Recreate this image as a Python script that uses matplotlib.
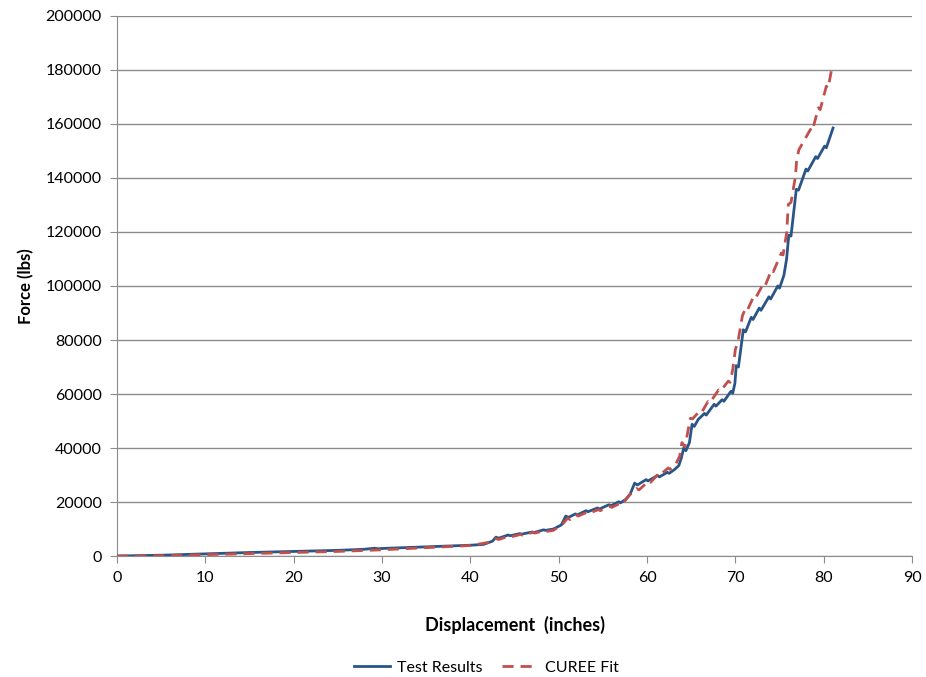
import numpy as np
from matplotlib import pyplot as plt

plt.rcParams['font.family'] = ['Lato', 'DejaVu Sans']

# Test Results (displacement in, force lbs)
test_x = [0, 5, 10, 15, 20, 25, 28, 29.2, 29.5, 30, 35, 40, 41.5, 42.5, 42.9, 43.2, 44.3, 44.5,
          45.6, 45.8, 47, 47.2, 48.3, 48.5, 49.4, 50.3, 50.8, 51.1, 51.9, 52.1, 53.1, 53.3,
          54.4, 54.6, 55.7, 55.9, 56.8, 57.0, 57.6, 58.1, 58.6, 58.9, 59.9, 60.1, 61.2,
          61.4, 62.3, 62.5, 63.1, 63.6, 63.9, 64.15, 64.4, 64.8, 65.1, 65.35, 65.8, 66.5,
          66.7, 67.6, 67.8, 68.5, 68.7, 69.5, 69.7, 69.95, 70.1, 70.35, 70.9, 71.15, 71.8,
          72.0, 72.7, 72.9, 73.8, 74.0, 74.8, 75.0, 75.5, 75.8, 76.05, 76.3, 76.9, 77.15,
          78.0, 78.2, 79.1, 79.3, 80.1, 80.3, 81.06]
test_y = [0, 300, 800, 1300, 1700, 2100, 2500, 2900, 2700, 2800, 3400, 4000, 4300, 5500,
          7000, 6600, 7800, 7500, 8300, 8100, 8900, 8700, 9700, 9500, 10000, 11500, 14800,
          14300, 15600, 15200, 16800, 16400, 17800, 17400, 19000, 18600, 20100, 19700, 21000,
          23000, 27000, 26300, 28300, 27800, 29800, 29300, 31000, 30600, 32000, 33500, 36500,
          40000, 39000, 42000, 48800, 48000, 50600, 52800, 52200, 56200, 55500, 57900,
          57300, 61000, 60300, 64000, 70500, 70000, 83800, 83000, 88400, 87600, 91800, 91000,
          96000, 95200, 100000, 99200, 104000, 110000, 118800, 118500, 135800, 135500,
          143300, 142600, 147900, 147200, 151800, 151200, 158500]

# CUREE Fit
fit_x = [0, 5, 10, 15, 20, 25, 30, 35, 40, 42, 42.9, 43.2, 44.4, 44.6, 45.7, 45.9, 47.1,
         47.3, 48.4, 48.6, 49.4, 50.5, 51, 51.3, 52.0, 52.2, 53.2, 53.4, 54.5, 54.7, 55.8,
         56.0, 57.0, 57.2, 58, 58.8, 59.1, 60.2, 60.4, 61.5, 61.7, 62.4, 62.6, 63.2, 63.7,
         63.95, 64.3, 64.9, 65.15, 66.0, 66.2, 66.9, 67.1, 68.1, 68.3, 69.2, 69.4, 69.7,
         70.0, 70.3, 70.8, 71.1, 71.3, 72.0, 72.2, 73.2, 73.4, 74.1, 74.3, 75.2, 75.4, 75.8,
         76.0, 76.3, 76.8, 76.95, 77.2, 78.5, 78.7, 79.4, 79.6, 80.3, 80.5, 81.0]
fit_y = [0, 100, 500, 900, 1300, 1700, 2300, 3100, 3900, 5000, 6500, 6100, 7400, 7100,
         8000, 7700, 8800, 8500, 9400, 9100, 9500, 12000, 14000, 13500, 15200, 14800, 16200,
         15800, 17200, 16800, 18400, 18000, 19600, 19200, 22500, 25000, 24500, 27800, 27300,
         31200, 30700, 32600, 32100, 33700, 37000, 42000, 40500, 51000, 50800, 53800, 53300,
         57200, 56700, 61500, 61000, 64800, 64300, 69000, 76500, 79500, 89000, 91300, 90600,
         95600, 95000, 101000, 100300, 106000, 105300, 112200, 111500, 119500, 130200,
         131000, 140500, 147000, 150500, 158000, 157300, 166000, 165300, 174000, 173300,
         182000]

fig = plt.figure(figsize=(9.26, 6.77), dpi=100)
ax = fig.add_axes([0.1264, 0.1787, 0.8585, 0.7977])

ax.plot(test_x, test_y, color='#2A5587', linewidth=2, label='Test Results', zorder=3)
ax.plot(fit_x, fit_y, color='#C0504D', linewidth=2, dashes=(4, 2.5), label='CUREE Fit', zorder=4)

ax.set_xlim(0, 90)
ax.set_ylim(0, 200000)
ax.set_xticks(np.arange(0, 91, 10))
ax.set_yticks(np.arange(0, 200001, 20000))
ax.yaxis.grid(True, color='#8C8C8C', linewidth=1)
ax.set_axisbelow(True)
for s in ['top', 'right']:
    ax.spines[s].set_visible(False)
for s in ['left', 'bottom']:
    ax.spines[s].set_color('#8C8C8C')
ax.tick_params(axis='both', direction='out', length=5, color='#8C8C8C', labelsize=11.5, pad=6)

ax.set_xlabel('Displacement  (inches)', fontsize=13, fontweight='bold', labelpad=22)
ax.set_ylabel('Force (lbs)', fontsize=12, fontweight='bold', labelpad=8)

fig.legend(loc='lower center', bbox_to_anchor=(0.525, -0.018), ncol=2, frameon=False,
           fontsize=11.5, handlelength=2.3, handletextpad=0.4, columnspacing=1.2)

plt.savefig('out.png', dpi=100)
